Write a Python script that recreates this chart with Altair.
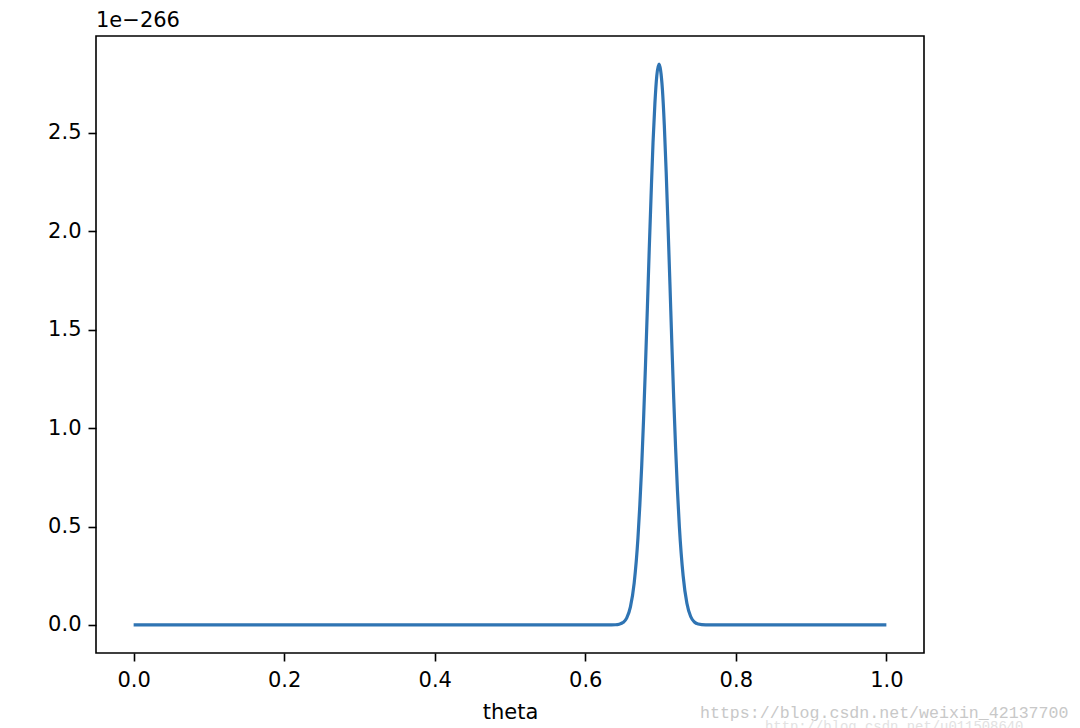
import altair as alt
import pandas as pd

# theta values
theta = [0.0, 0.1, 0.2, 0.3, 0.4, 0.5, 0.6, 0.62, 0.63, 0.64, 0.645, 0.65, 0.655, 0.66, 0.665,
         0.67, 0.6725, 0.675, 0.6775, 0.68, 0.6825, 0.685, 0.6875, 0.69, 0.6925, 0.695, 0.698,
         0.70, 0.7025, 0.705, 0.7075, 0.71, 0.7125, 0.715, 0.7175, 0.72, 0.7225, 0.725, 0.73,
         0.735, 0.74, 0.745, 0.75, 0.76, 0.77, 0.8, 0.9, 1.0]
# likelihood values in units of 1e-266
likelihood = [0.0, 0.0, 0.0, 0.0, 0.0, 0.0, 0.0, 0.0, 0.0, 0.001, 0.004, 0.012, 0.035, 0.092, 0.214,
              0.442, 0.61, 0.81, 1.05, 1.32, 1.61, 1.91, 2.19, 2.45, 2.65, 2.79, 2.85,
              2.82, 2.72, 2.54, 2.30, 2.02, 1.73, 1.43, 1.15, 0.90, 0.68, 0.50, 0.25,
              0.11, 0.043, 0.015, 0.005, 0.0005, 0.0, 0.0, 0.0, 0.0]

x_ticks = [0.0, 0.2, 0.4, 0.6, 0.8, 1.0]
y_ticks = [0.0, 0.5, 1.0, 1.5, 2.0, 2.5]
offset_label = "1e\u2212266"
watermark1 = "https://blog.csdn.net/weixin_42137700"
watermark2 = "http://blog.csdn.net/u011508640"

df = pd.DataFrame({"theta": theta, "likelihood": likelihood})

FONT = "DejaVu Sans"

line = alt.Chart(df).mark_line(color="#2f74b3", strokeWidth=3.2, interpolate="monotone").encode(
    x=alt.X("theta:Q", title="theta",
            scale=alt.Scale(domain=[-0.05, 1.05], nice=False, zero=False),
            axis=alt.Axis(values=x_ticks, format=".1f", grid=False, domain=False,
                          tickColor="black", tickSize=8, tickWidth=1.6,
                          labelColor="black", labelFontSize=21, labelFont=FONT, labelPadding=8,
                          titleColor="black", titleFontSize=21, titleFont=FONT,
                          titleFontWeight="normal", titlePadding=11)),
    y=alt.Y("likelihood:Q", title=None,
            scale=alt.Scale(domain=[-0.1425, 2.9925], nice=False, zero=False),
            axis=alt.Axis(values=y_ticks, format=".1f", grid=False, domain=False,
                          tickColor="black", tickSize=8, tickWidth=1.6,
                          labelColor="black", labelFontSize=21, labelFont=FONT, labelPadding=7)),
)

offset_df = pd.DataFrame({"t": [offset_label]})
offset_text = alt.Chart(offset_df).mark_text(
    align="left", baseline="alphabetic", fontSize=21, font=FONT, color="black"
).encode(x=alt.value(0), y=alt.value(-9), text="t:N")

wm_df = pd.DataFrame({"t": [watermark1]})
wm_text = alt.Chart(wm_df).mark_text(
    align="left", baseline="alphabetic", fontSize=16.6, font="Liberation Mono", color="#c8c8c8"
).encode(x=alt.value(604), y=alt.value(682), text="t:N")

wm2_df = pd.DataFrame({"t": [watermark2]})
wm2_text = alt.Chart(wm2_df).mark_text(
    align="left", baseline="alphabetic", fontSize=13.9, font="Liberation Mono", color="#e2e2e2"
).encode(x=alt.value(669), y=alt.value(695), text="t:N")

chart = alt.layer(line, offset_text, wm_text, wm2_text).properties(
    width=828, height=617,
    autosize=alt.AutoSizeParams(type="none"),
    padding={"left": 88, "top": 28, "right": 148, "bottom": 75},
    background="white",
).configure_view(stroke="black", strokeWidth=1.6)

chart.save("out.html", embed_options={"renderer": "svg", "actions": False})
